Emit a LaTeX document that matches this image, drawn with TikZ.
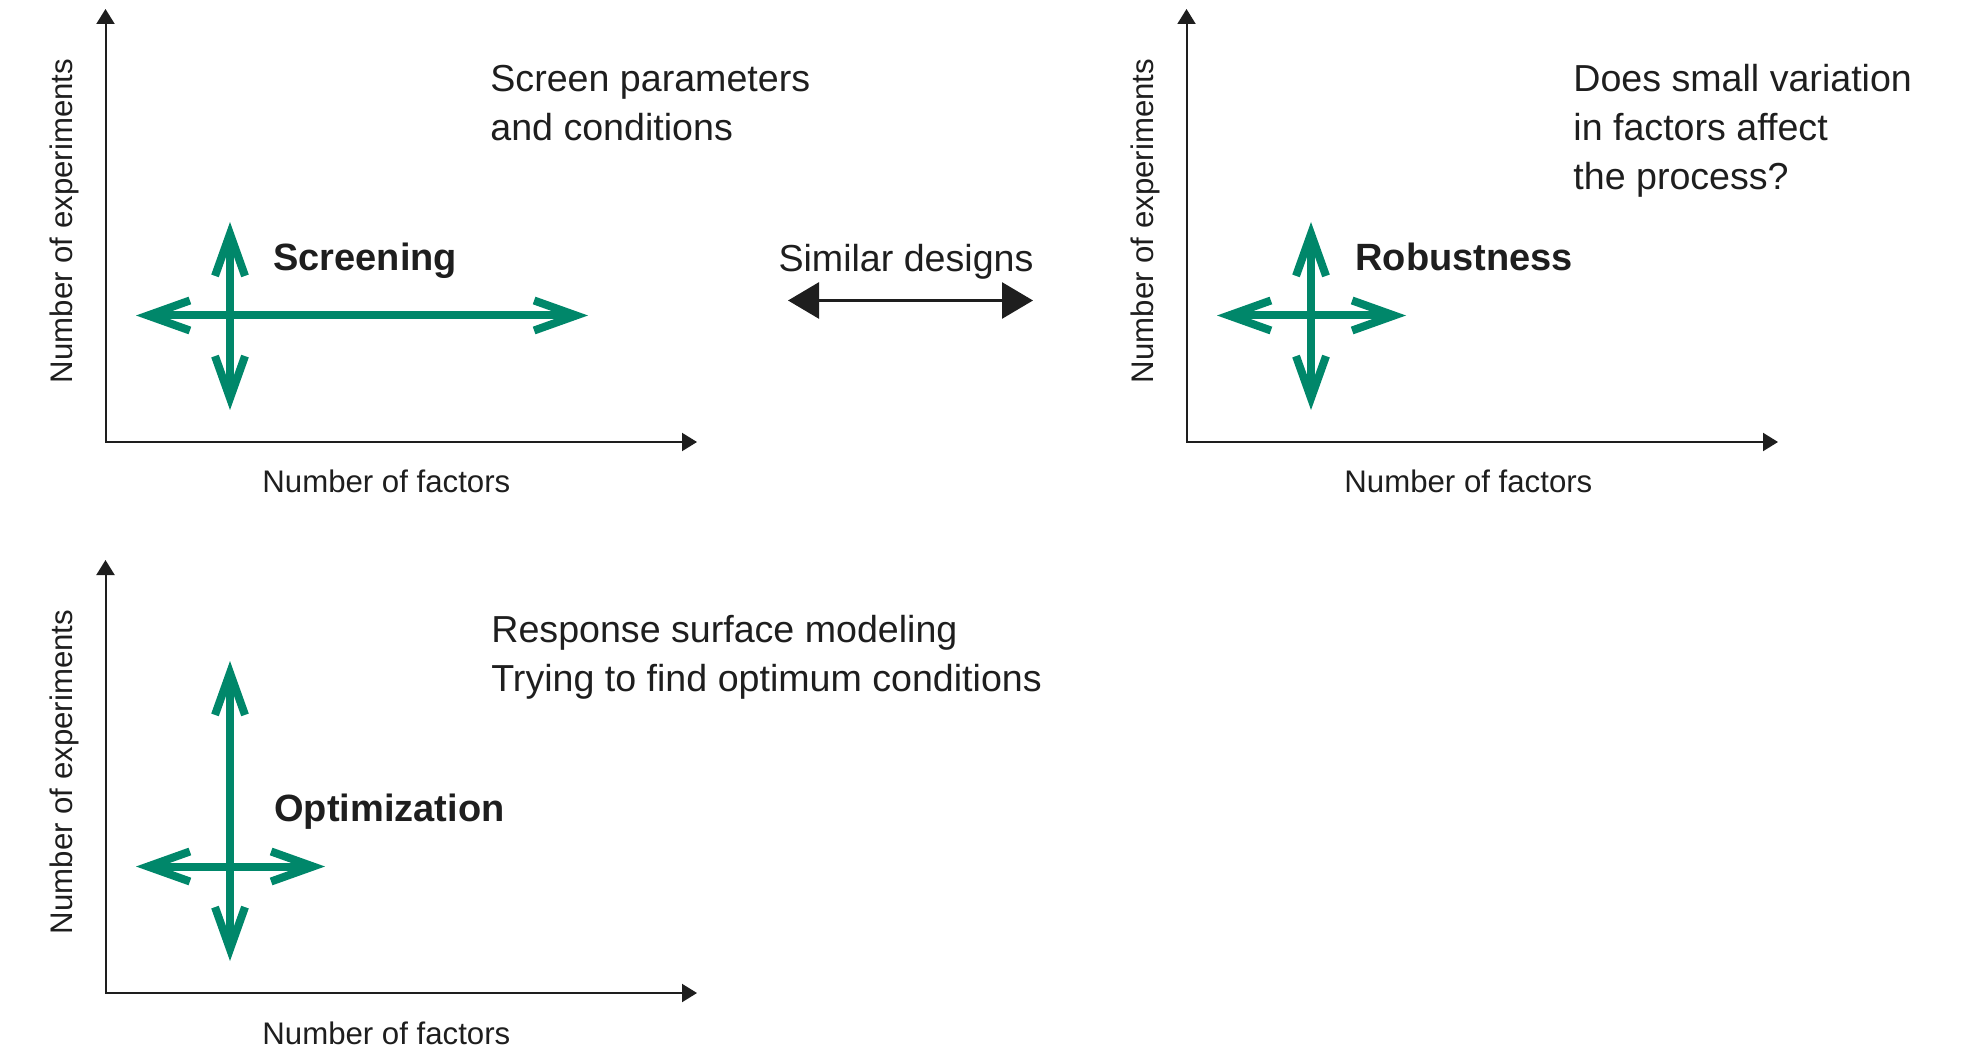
\documentclass[tikz,border=0pt]{standalone}
\usepackage{fontspec}
\setmainfont{Liberation Sans}
\usetikzlibrary{arrows.meta}
\definecolor{dgreen}{RGB}{0,135,106}
\definecolor{ink}{RGB}{30,30,30}
\begin{document}
\begin{tikzpicture}[x=0.5pt,y=-0.5pt,
  axisline/.style={draw=ink, line width=1pt, {Triangle[length=7.5pt,width=9pt]}-{Triangle[length=7.5pt,width=9pt]}},
  garrow/.style={draw=dgreen, line width=4pt, {Straight Barb[length=21pt,width=15pt]}-{Straight Barb[length=21pt,width=15pt]}},
  barrow/.style={draw=ink, line width=1.4pt, {Triangle[length=15.5pt,width=18pt]}-{Triangle[length=15.5pt,width=18pt]}},
  axislabel/.style={text=ink, font=\fontsize{15.6}{18}\selectfont, inner sep=0pt},
  plainlabel/.style={text=ink, font=\fontsize{18.8}{24.5}\selectfont, inner sep=0pt, align=left, anchor=base west},
  boldlabel/.style={text=ink, font=\fontsize{19}{24}\selectfont\bfseries, inner sep=0pt, anchor=base west}]
\useasboundingbox (0,0) rectangle (1962,1052);

% ---------- Panel 1: Screening ----------
\begin{scope}
  \coordinate (a1y) at (105.5,9);
  \coordinate (a1o) at (105.5,442);
  \coordinate (a1x) at (697,442);
  \draw[axisline] (a1y) -- (a1o) -- (a1x);
  \node[axislabel, rotate=90, anchor=base] (a1yl) at (72.5,221) {Number of experiments};
  \node[axislabel, anchor=base west] (a1xl) at (262,493) {Number of factors};
  \coordinate (c1t) at (230,222);
  \coordinate (c1b) at (230,410);
  \coordinate (c1l) at (136,315.5);
  \coordinate (c1r) at (588,315.5);
  \draw[garrow] (c1t) -- (c1b);
  \draw[garrow] (c1l) -- (c1r);
  \node[boldlabel] (l1) at (273,271) {Screening};
  \node[plainlabel] (t1) at (490,141) {Screen parameters\\and conditions};
\end{scope}

% ---------- Middle: Similar designs ----------
\node[text=ink, font=\fontsize{18.8}{24}\selectfont, inner sep=0pt, anchor=base] (sim) at (906,272) {Similar designs};
\coordinate (simL) at (788,300.5);
\coordinate (simR) at (1033,300.5);
\draw[barrow] (simL) -- (simR);

% ---------- Panel 2: Robustness ----------
\begin{scope}[shift={(1081,0)}]
  \coordinate (a2y) at (105.5,9);
  \coordinate (a2o) at (105.5,442);
  \coordinate (a2x) at (697,442);
  \draw[axisline] (a2y) -- (a2o) -- (a2x);
  \node[axislabel, rotate=90, anchor=base] (a2yl) at (72.5,221) {Number of experiments};
  \node[axislabel, anchor=base west] (a2xl) at (263,493) {Number of factors};
  \coordinate (c2t) at (230,222);
  \coordinate (c2b) at (230,410);
  \coordinate (c2l) at (136,315.5);
  \coordinate (c2r) at (325,315.5);
  \draw[garrow] (c2t) -- (c2b);
  \draw[garrow] (c2l) -- (c2r);
  \node[boldlabel] (l2) at (274,271) {Robustness};
  \node[plainlabel] (t2) at (492,190) {Does small variation\\in factors affect\\the process?};
\end{scope}

% ---------- Panel 3: Optimization ----------
\begin{scope}[shift={(0,551)}]
  \coordinate (a3y) at (105.5,9);
  \coordinate (a3o) at (105.5,442);
  \coordinate (a3x) at (697,442);
  \draw[axisline] (a3y) -- (a3o) -- (a3x);
  \node[axislabel, rotate=90, anchor=base] (a3yl) at (72.5,221) {Number of experiments};
  \node[axislabel, anchor=base west] (a3xl) at (262,493) {Number of factors};
  \coordinate (c3t) at (230,110);
  \coordinate (c3b) at (230,410);
  \coordinate (c3l) at (136,315.5);
  \coordinate (c3r) at (325,315.5);
  \draw[garrow] (c3t) -- (c3b);
  \draw[garrow] (c3l) -- (c3r);
  \node[boldlabel] (l3) at (274,270) {Optimization};
  \node[plainlabel] (t3) at (491,140) {Response surface modeling\\Trying to find optimum conditions};
\end{scope}
\end{tikzpicture}
\end{document}
